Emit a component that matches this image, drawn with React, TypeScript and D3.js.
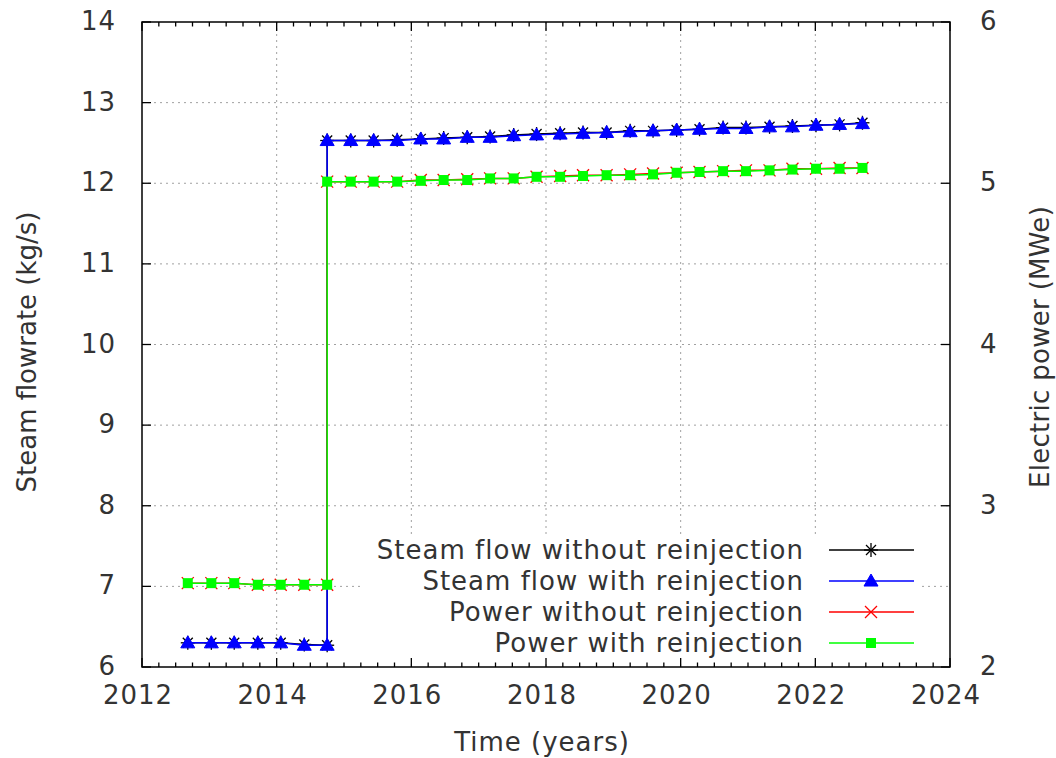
import React from "react";
import * as d3 from "d3";

const times = [
  2012.68, 2013.03, 2013.37, 2013.72, 2014.06, 2014.41, 2014.75,
  2014.75, 2015.10, 2015.44, 2015.79, 2016.14, 2016.48, 2016.83, 2017.17,
  2017.52, 2017.86, 2018.21, 2018.55, 2018.90, 2019.25, 2019.59, 2019.94,
  2020.28, 2020.63, 2020.97, 2021.32, 2021.66, 2022.01, 2022.36, 2022.70,
];

const steamWithout = [
  6.30, 6.30, 6.30, 6.30, 6.30, 6.28, 6.27,
  12.53, 12.53, 12.53, 12.54, 12.55, 12.56, 12.57, 12.58,
  12.60, 12.61, 12.62, 12.63, 12.63, 12.65, 12.65, 12.66,
  12.67, 12.69, 12.69, 12.70, 12.71, 12.72, 12.73, 12.75,
];

const steamWith = [
  6.30, 6.30, 6.30, 6.30, 6.30, 6.27, 6.27,
  12.53, 12.53, 12.53, 12.53, 12.55, 12.55, 12.57, 12.57,
  12.59, 12.60, 12.61, 12.62, 12.63, 12.64, 12.65, 12.66,
  12.67, 12.68, 12.68, 12.70, 12.70, 12.72, 12.73, 12.74,
];

const powerWithout = [
  2.52, 2.52, 2.52, 2.51, 2.51, 2.51, 2.51,
  5.01, 5.01, 5.01, 5.01, 5.02, 5.02, 5.025, 5.03,
  5.03, 5.04, 5.045, 5.05, 5.05, 5.055, 5.06, 5.065,
  5.07, 5.075, 5.08, 5.08, 5.09, 5.09, 5.095, 5.095,
];

const powerWith = [
  2.52, 2.52, 2.52, 2.51, 2.51, 2.51, 2.51,
  5.01, 5.01, 5.01, 5.01, 5.015, 5.02, 5.02, 5.03,
  5.03, 5.04, 5.04, 5.045, 5.05, 5.05, 5.055, 5.065,
  5.07, 5.075, 5.075, 5.08, 5.085, 5.09, 5.09, 5.095,
];

const xTicks = [2012, 2014, 2016, 2018, 2020, 2022, 2024];
const yTicks = [6, 7, 8, 9, 10, 11, 12, 13, 14];
const y2Ticks = [2, 3, 4, 5, 6];

const legendLabels = [
  "Steam flow without reinjection",
  "Steam flow with reinjection",
  "Power without reinjection",
  "Power with reinjection",
];

const W = 1056;
const H = 758;
const L = 142, R = 950, T = 22, B = 667;
const FONT = "DejaVu Sans";
const TXT = "#333333";
const LS = 1;

function Marker({ kind, x, y, color }: { kind: string; x: number; y: number; color: string }) {
  if (kind === "star") {
    const a = 7, d = 5;
    return (
      <g stroke={color} strokeWidth={1.3}>
        <line x1={x - a} y1={y} x2={x + a} y2={y} />
        <line x1={x} y1={y - a} x2={x} y2={y + a} />
        <line x1={x - d} y1={y - d} x2={x + d} y2={y + d} />
        <line x1={x - d} y1={y + d} x2={x + d} y2={y - d} />
      </g>
    );
  }
  if (kind === "tri") {
    const w = 7, h = 12;
    return <path d={`M${x},${y - h * 0.58}L${x + w},${y + h * 0.42}L${x - w},${y + h * 0.42}Z`} fill={color} stroke={color} strokeWidth={1} />;
  }
  if (kind === "x") {
    const d = 6;
    return (
      <g stroke={color} strokeWidth={1.3}>
        <line x1={x - d} y1={y - d} x2={x + d} y2={y + d} />
        <line x1={x - d} y1={y + d} x2={x + d} y2={y - d} />
      </g>
    );
  }
  const s = 5;
  return <rect x={x - s} y={y - s} width={2 * s} height={2 * s} fill={color} />;
}

export default function App() {
  const x = d3.scaleLinear().domain([2012, 2024]).range([L, R]);
  const y = d3.scaleLinear().domain([6, 14]).range([B, T]);
  const y2 = d3.scaleLinear().domain([2, 6]).range([B, T]);

  const series = [
    { vals: steamWithout, sc: y, color: "#000000", kind: "star" },
    { vals: steamWith, sc: y, color: "#0000ff", kind: "tri" },
    { vals: powerWithout, sc: y2, color: "#ff0000", kind: "x" },
    { vals: powerWith, sc: y2, color: "#00ff00", kind: "sq" },
  ];

  const minorX = d3.range(2012, 2024.001, 0.25);

  const legendY = [550, 581, 612, 643];

  return (
    <div style={{ position: "absolute", left: 0, top: 0 }}>
      <svg width={W} height={H} style={{ display: "block", background: "#fff" }}>
        {/* grid */}
        <g stroke="#a0a0a0" strokeWidth={1} strokeDasharray="2,4">
          {xTicks.filter((t) => t > 2012 && t < 2024).map((t) => (
            <line key={"gx" + t} x1={x(t)} x2={x(t)} y1={T} y2={B} />
          ))}
          {yTicks.filter((t) => t > 6 && t < 14).map((t) => (
            <line key={"gy" + t} x1={L} x2={R} y1={y(t)} y2={y(t)} />
          ))}
        </g>

        {/* data */}
        {series.map((s, i) => {
          const line = d3
            .line<number>()
            .x((_, j) => x(times[j]))
            .y((v) => s.sc(v));
          return (
            <g key={"s" + i}>
              <path d={line(s.vals) || ""} fill="none" stroke={s.color} strokeWidth={1.5} />
              {s.vals.map((v, j) => (
                <Marker key={j} kind={s.kind} x={x(times[j])} y={s.sc(v)} color={s.color} />
              ))}
            </g>
          );
        })}

        {/* legend */}
        <rect x={362} y={535} width={560} height={128} fill="#fff" />
        {legendLabels.map((lab, i) => (
          <g key={"lg" + i}>
            <text x={804} y={legendY[i]} textAnchor="end" dominantBaseline="central" fontFamily={FONT} fontSize={26} fill={TXT} letterSpacing={LS}>
              {lab}
            </text>
            <line x1={829} x2={914} y1={legendY[i]} y2={legendY[i]} stroke={series[i].color} strokeWidth={1.5} />
            <Marker kind={series[i].kind} x={871} y={legendY[i]} color={series[i].color} />
          </g>
        ))}

        {/* ticks */}
        <g stroke="#000" strokeWidth={1.3}>
          {minorX.map((t, i) => {
            const major = xTicks.includes(t);
            const len = major ? 9 : 4.5;
            return (
              <g key={"tx" + i}>
                <line x1={x(t)} x2={x(t)} y1={B} y2={B - len} />
                <line x1={x(t)} x2={x(t)} y1={T} y2={T + len} />
              </g>
            );
          })}
          {yTicks.map((t) => (
            <line key={"ty" + t} x1={L} x2={L + 9} y1={y(t)} y2={y(t)} />
          ))}
          {y2Ticks.map((t) => (
            <line key={"ty2" + t} x1={R} x2={R - 9} y1={y2(t)} y2={y2(t)} />
          ))}
        </g>

        {/* frame */}
        <rect x={L} y={T} width={R - L} height={B - T} fill="none" stroke="#000" strokeWidth={1.5} />

        {/* tick labels */}
        <g fontFamily={FONT} fontSize={26} fill={TXT} letterSpacing={LS}>
          {xTicks.map((t) => (
            <text key={"lx" + t} x={x(t) - 4} y={695} textAnchor="middle" dominantBaseline="central">
              {t}
            </text>
          ))}
          {yTicks.map((t) => (
            <text key={"ly" + t} x={116} y={y(t) - 1} textAnchor="end" dominantBaseline="central">
              {t}
            </text>
          ))}
          {y2Ticks.map((t) => (
            <text key={"ly2" + t} x={980} y={y2(t) - 1} textAnchor="start" dominantBaseline="central">
              {t}
            </text>
          ))}
        </g>

        {/* axis titles */}
        <g fontFamily={FONT} fontSize={26} fill={TXT}>
          <text x={542} y={742} textAnchor="middle" dominantBaseline="central" letterSpacing={LS}>Time (years)</text>
          <text transform={`translate(27,352) rotate(-90)`} textAnchor="middle" dominantBaseline="central">
            Steam flowrate (kg/s)
          </text>
          <text transform={`translate(1040,347) rotate(-90)`} textAnchor="middle" dominantBaseline="central" letterSpacing={0.3}>
            Electric power (MWe)
          </text>
        </g>
      </svg>
    </div>
  );
}
